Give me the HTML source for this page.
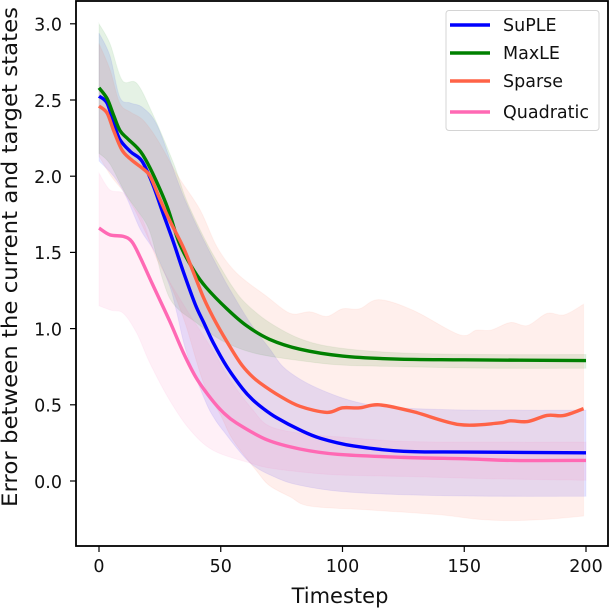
<!DOCTYPE html>
<html>
<head>
<meta charset="utf-8">
<style>
html,body{margin:0;padding:0;background:#fff;width:610px;height:608px;overflow:hidden}
svg{display:block}
text{font-family:"DejaVu Sans","Liberation Sans",sans-serif;fill:#111}
</style>
</head>
<body>
<svg id="chart" width="610" height="608" viewBox="0 0 610 608" xmlns="http://www.w3.org/2000/svg"></svg>
<script>
const xTicks = [0, 50, 100, 150, 200];
const yTicks = [0.0, 0.5, 1.0, 1.5, 2.0, 2.5, 3.0];
const xTitle = "Timestep";
const yTitle = "Error between the current and target states";
const seriesNames = ["SuPLE", "MaxLE", "Sparse", "Quadratic"];
const seriesColors = ["#0000ff", "#008000", "#ff6347", "#ff69b4"];

const supleT = [0,3.3,6,8.6,13,17.6,22,26,30.5,34.7,39.5,43,47,52.5,59,63,67.5,73,82.5,91,104.5,125,152,200];
const supleMean = [2.525,2.48,2.35,2.24,2.16,2.10,1.95,1.77,1.57,1.37,1.16,1.04,0.905,0.75,0.605,0.535,0.475,0.415,0.335,0.28,0.23,0.195,0.19,0.185];
const supleUpT = [0,4.5,8.5,13,18,24,32,36,41.5,50,54,62,70,77,91,111,139,170,200];
const supleUp = [2.94,2.79,2.52,2.48,2.45,2.33,1.98,1.82,1.63,1.365,1.25,1.04,0.87,0.73,0.6,0.5,0.47,0.465,0.465];
const supleLowT = [0,6,11,17,23,29,32,36,43.5,47,51,62,73,83,100,125,160,200];
const supleLow = [2.1,2.0,1.87,1.65,1.5,1.28,1.1,0.84,0.53,0.42,0.33,0.12,0.02,-0.03,-0.07,-0.09,-0.1,-0.1];

const maxleT = [0,3.3,6,8.6,11.5,15.5,18,22,28,33,39,44,52.5,60.5,70,82.5,100,122,150,200];
const maxleMean = [2.58,2.51,2.40,2.30,2.25,2.19,2.14,2.02,1.80,1.56,1.38,1.27,1.13,1.02,0.93,0.865,0.82,0.80,0.795,0.79];
const maxleUpT = [0,4.5,9.5,15.5,22,30.5,36,44,50,55,60,70,84,100,125,160,200];
const maxleUp = [3.0,2.87,2.63,2.61,2.41,2.09,1.84,1.57,1.40,1.27,1.17,1.04,0.925,0.87,0.84,0.83,0.83];
const maxleLowT = [0,4.5,11.5,20,24,26,29,33,39,50,63.5,82.5,100,125,160,200];
const maxleLow = [2.15,2.08,1.87,1.67,1.45,1.33,1.2,1.12,1.05,0.925,0.84,0.79,0.76,0.75,0.74,0.74];

const sparseT = [0,3.3,6,9.5,13.5,18,21,25,29,34.7,39,43,47,52.5,58,62,66,74.5,82.5,93.6,100,107,115,129,148,164,169,176,184,191,199];
const sparseMean = [2.46,2.415,2.30,2.17,2.105,2.05,2.0,1.85,1.71,1.53,1.36,1.2,1.07,0.915,0.775,0.70,0.645,0.555,0.49,0.45,0.48,0.48,0.50,0.455,0.37,0.38,0.395,0.39,0.43,0.43,0.475];
const sparseUpT = [0,4.5,8.5,13,18,24,32.5,41.5,48.5,56.5,69,78.6,86.7,93.6,100,107,115,129,148,155,161,169,176,184,191,199];
const sparseUp = [2.87,2.7,2.48,2.42,2.37,2.24,2.0,1.78,1.535,1.365,1.21,1.1,1.11,1.08,1.13,1.13,1.19,1.12,0.96,0.99,0.99,1.04,1.02,1.1,1.09,1.16];
const sparseLowT = [0,5,10,14,20,24,29,35.3,43,50,55,65,70,78.6,86.7,111,139,155,169,185,199];
const sparseLow = [2.13,2.0,1.9,1.8,1.6,1.45,1.3,1.04,0.64,0.43,0.27,0.06,-0.03,-0.105,-0.165,-0.19,-0.22,-0.25,-0.26,-0.25,-0.23];

const quadT = [0,4.5,10,13.5,17,22,29,34.7,40,46,51,56.5,69,82.5,98,125,152,170,200];
const quadMean = [1.66,1.615,1.605,1.57,1.465,1.29,1.05,0.84,0.675,0.54,0.45,0.38,0.27,0.21,0.175,0.155,0.145,0.135,0.135];
const quadUpT = [0,4.5,10,14,18,24,35,41,47,54,63,70,84,98,125,160,200];
const quadUp = [2.02,1.91,1.89,1.8,1.71,1.45,1.15,1.0,0.85,0.66,0.47,0.36,0.31,0.29,0.26,0.255,0.255];
const quadLowT = [0,5,10,15.5,21,29,37.4,47,62,70,82.5,98,125,160,200];
const quadLow = [1.15,1.12,1.1,0.97,0.77,0.53,0.335,0.2,0.118,0.085,0.06,0.04,0.03,0.015,0.005];

const NS = "http://www.w3.org/2000/svg";
const svg = document.getElementById("chart");
const xScale = v => 99 + v * 2.435;
const yScale = v => 481 - v * 152.4;

function make(tag, attrs, text) {
  const el = document.createElementNS(NS, tag);
  for (const k in attrs) el.setAttribute(k, attrs[k]);
  if (text !== undefined) el.textContent = text;
  svg.appendChild(el);
  return el;
}
function curve(pts, move) {
  let d = (move ? "M" : "L") + pts[0][0].toFixed(2) + " " + pts[0][1].toFixed(2);
  for (let i = 0; i < pts.length - 1; i++) {
    const p0 = pts[Math.max(i - 1, 0)], p1 = pts[i], p2 = pts[i + 1], p3 = pts[Math.min(i + 2, pts.length - 1)];
    const c1x = p1[0] + (p2[0] - p0[0]) / 6, c1y = p1[1] + (p2[1] - p0[1]) / 6;
    const c2x = p2[0] - (p3[0] - p1[0]) / 6, c2y = p2[1] - (p3[1] - p1[1]) / 6;
    d += "C" + c1x.toFixed(2) + " " + c1y.toFixed(2) + " " + c2x.toFixed(2) + " " + c2y.toFixed(2) + " " + p2[0].toFixed(2) + " " + p2[1].toFixed(2);
  }
  return d;
}
function toPts(ts, vs) {
  return ts.map((t, i) => [xScale(t), yScale(vs[i])]);
}

const bands = [
  [supleUpT, supleUp, supleLowT, supleLow, "suple"],
  [maxleUpT, maxleUp, maxleLowT, maxleLow, "maxle"],
  [sparseUpT, sparseUp, sparseLowT, sparseLow, "sparse"],
  [quadUpT, quadUp, quadLowT, quadLow, "quadratic"]
];
bands.forEach((b, i) => {
  const up = toPts(b[0], b[1]);
  const low = toPts(b[2], b[3]).reverse();
  const d = curve(up, true) + curve(low, false) + "Z";
  const el = make("path", { d: d, fill: seriesColors[i], "fill-opacity": 0.1, stroke: seriesColors[i], "stroke-opacity": 0.06, "stroke-width": 1 });
  
  
});

const lines = [
  [supleT, supleMean, "suple"],
  [maxleT, maxleMean, "maxle"],
  [sparseT, sparseMean, "sparse"],
  [quadT, quadMean, "quadratic"]
];
lines.forEach((l, i) => {
  const el = make("path", { d: curve(toPts(l[0], l[1]), true), fill: "none", stroke: seriesColors[i], "stroke-width": 3.4, "stroke-linejoin": "round" });
  
  
});

// axes frame
const frame = make("rect", { x: 76, y: 1, width: 532, height: 545, fill: "none", stroke: "#000", "stroke-width": 1.8 });



xTicks.forEach(v => {
  const tick = make("line", { x1: xScale(v), x2: xScale(v), y1: 546, y2: 552, stroke: "#000", "stroke-width": 1.2 });
  
  
  const label = make("text", { x: xScale(v), y: 572, "text-anchor": "middle", "font-size": 17.5 }, String(v));
  
  
});
yTicks.forEach(v => {
  const tick = make("line", { x1: 70, x2: 76, y1: yScale(v), y2: yScale(v), stroke: "#000", "stroke-width": 1.2 });
  
  
  const label = make("text", { x: 62, y: yScale(v) + 6.8, "text-anchor": "end", "font-size": 17.5 }, v.toFixed(1));
  
  
});

const xt = make("text", { x: 340, y: 603, "text-anchor": "middle", "font-size": 21 }, xTitle);


const yt = make("text", { x: 0, y: 0, "text-anchor": "middle", "font-size": 21, textLength: 500, lengthAdjust: "spacingAndGlyphs", transform: "translate(17 257) rotate(-90)" }, yTitle);



// legend
const legendBox = make("rect", { x: 446, y: 10.5, width: 153, height: 120, rx: 3, fill: "#fff", "fill-opacity": 0.8, stroke: "#d4d4d4", "stroke-width": 1 });


const legendRows = [25, 53, 81, 112];
seriesNames.forEach((name, i) => {
  const sw = make("line", { x1: 450, x2: 490, y1: legendRows[i], y2: legendRows[i], stroke: seriesColors[i], "stroke-width": 3.4 });
  
  
  const tx = make("text", { x: 503, y: legendRows[i] + 6, "font-size": 17.5 }, name);
  
  
});
</script>
</body>
</html>
